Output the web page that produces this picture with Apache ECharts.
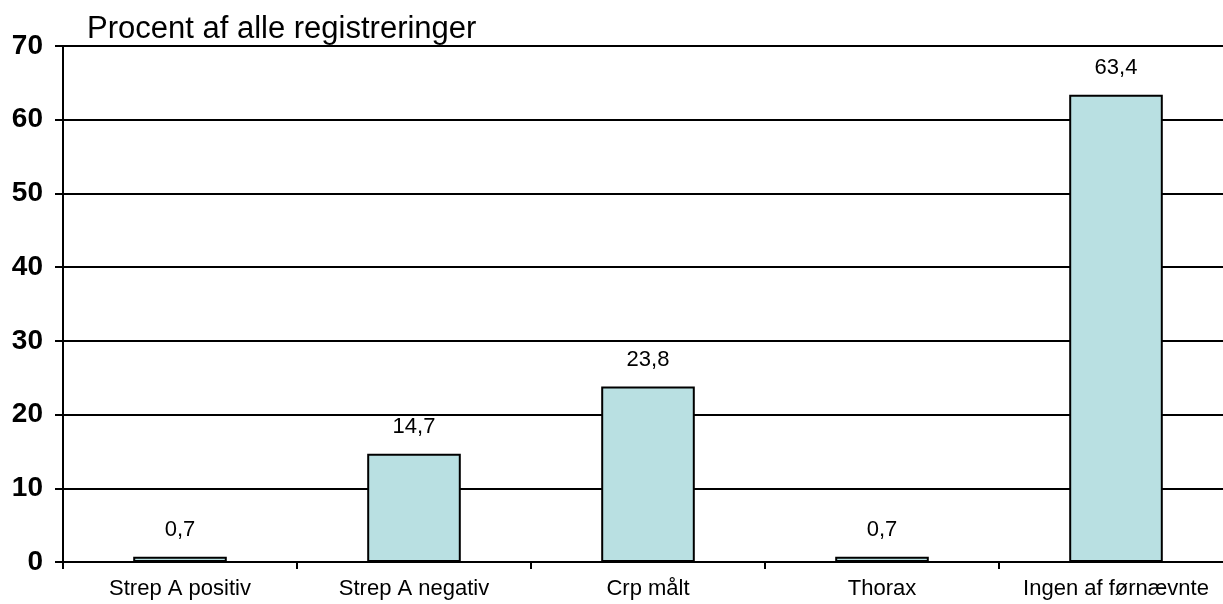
<!DOCTYPE html>
<html>
<head>
<meta charset="utf-8">
<script src="https://cdn.jsdelivr.net/npm/echarts@6/dist/echarts.min.js"></script>
<style>html,body{margin:0;padding:0;background:#fff;overflow:hidden}#c{width:1240px;height:604px}</style>
</head>
<body>
<div id="c"></div>
<script>
var categories = ['Strep A positiv', 'Strep A negativ', 'Crp målt', 'Thorax', 'Ingen af førnævnte'];
var values = [0.7, 14.7, 23.8, 0.7, 63.4];
var yTicks = [0, 10, 20, 30, 40, 50, 60, 70];
var titleText = 'Procent af alle registreringer';

var chart = echarts.init(document.getElementById('c'));
chart.setOption({
  backgroundColor: '#fff',
  animation: false,
  title: {
    text: titleText,
    left: 82, top: 9,
    textStyle: {fontFamily: 'Liberation Sans, Arial', fontSize: 31, fontWeight: 'normal', color: '#000'}
  },
  grid: {left: 63, right: 7, top: 46, bottom: 42, containLabel: false},
  xAxis: {
    type: 'category',
    data: categories,
    axisLine: {lineStyle: {color: '#000', width: 2}},
    axisTick: {show: true, length: 7, lineStyle: {color: '#000', width: 2}},
    axisLabel: {interval: 0, fontFamily: 'Liberation Sans, Arial', fontSize: 22, color: '#000', margin: 16}
  },
  yAxis: {
    type: 'value',
    min: yTicks[0], max: yTicks[yTicks.length - 1], interval: 10,
    axisLine: {show: true, lineStyle: {color: '#000', width: 2}},
    axisTick: {show: true, length: 8, lineStyle: {color: '#000', width: 2}},
    splitLine: {show: true, lineStyle: {color: '#000', width: 2}},
    axisLabel: {fontFamily: 'Liberation Sans, Arial', fontSize: 28, fontWeight: 'bold', color: '#000', margin: 20}
  },
  series: [{
    type: 'bar',
    data: values,
    barWidth: '40%',
    itemStyle: {color: '#B9E0E2', borderColor: '#000', borderWidth: 2},
    label: {
      show: true, position: 'top', distance: 16,
      fontFamily: 'Liberation Sans, Arial', fontSize: 22, color: '#000',
      formatter: function (p) { return String(p.value).replace('.', ','); }
    }
  }]
});
</script>
</body>
</html>
